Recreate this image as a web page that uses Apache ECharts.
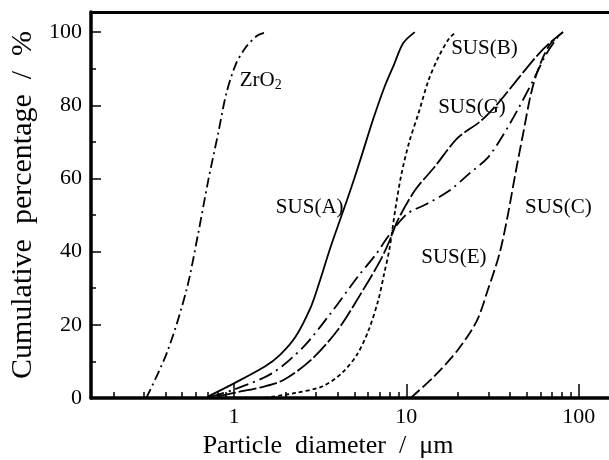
<!DOCTYPE html>
<html>
<head>
<meta charset="utf-8" />
<title>Cumulative particle size distribution</title>
<style>
  html, body { margin: 0; padding: 0; background: #fff; }
  #chart { width: 609px; height: 460px; }
</style>
</head>
<body>
<div id="chart"></div>
<script src="https://cdn.jsdelivr.net/npm/echarts@6/dist/echarts.min.js"></script>
<script>
// ---- data: [diameter um, cumulative %] ----
const zro2 = [[0.31, 0], [0.41, 12.6], [0.53, 29.5], [0.62, 45], [0.71, 59.6], [0.81, 72.4],
  [0.9, 83], [1.02, 91], [1.16, 95.6], [1.36, 99], [1.55, 100]];
const susA = [[0.7, 0.3], [1.0, 4], [1.51, 8.6], [1.85, 11.8], [2.28, 16.8], [2.8, 25], [3.1, 31],
  [3.62, 41], [4.22, 50], [4.8, 57.6], [5.46, 65.7], [6.37, 75.7], [7.44, 84.8], [8.46, 91],
  [9.6, 97], [11.2, 100]];
const susB = [[1.5, 0], [2.28, 1.4], [3.27, 3.2], [4.22, 6.8], [5.2, 12], [6.05, 18.6], [6.87, 26.7],
  [7.44, 34], [8.0, 41], [8.66, 52], [9.35, 61], [10.4, 70], [11.8, 78], [13.4, 86.6],
  [15.3, 93], [17.8, 98.4], [19.5, 100]];
const susE = [[0.73, 0.3], [1.0, 2.3], [1.67, 6.8], [2.53, 14], [3.62, 23], [5.2, 33], [6.7, 39.4],
  [7.8, 44], [10.1, 50.3], [13.1, 53], [17.8, 56.7], [23, 61.2], [29.7, 65.7], [36.6, 72],
  [44.9, 79.3], [55.4, 87.5], [64.5, 93.8], [75, 98.4], [81, 100]];
const susG = [[0.81, 0.5], [1.0, 1.4], [1.51, 3.2], [1.95, 5], [2.8, 10.4], [4.0, 18.6], [5.46, 28.6],
  [7.07, 37.6], [8.0, 43], [8.9, 48.5], [11.2, 56.7], [14.5, 63], [19.8, 71], [27, 75.7],
  [34.7, 81], [44.9, 87.5], [58, 93.8], [67.8, 97], [81, 100]];
const susC = [[10.6, 0], [14.5, 5.9], [19.8, 13], [25.6, 21], [29.7, 29.5], [34.7, 39.4], [38.6, 49.4],
  [42.9, 61.2], [47.5, 72], [52.8, 83], [58.4, 90], [67.8, 96.5], [81, 100]];

// curve labels: [x, y, text]
const curveLabels = [
  [1.08, 86.9, '{a|ZrO}{s|2}'],
  [1.75, 52.2, 'SUS(A)'],
  [18.2, 95.6, 'SUS(B)'],
  [15.3, 79.5, 'SUS(G)'],
  [12.2, 38.3, 'SUS(E)'],
  [48.9, 52.2, 'SUS(C)']
];

// ticks
const xMajor = [1, 10, 100];
const xMinor = [0.2, 0.3, 0.4, 0.5, 0.6, 0.7, 0.8, 0.9, 2, 3, 4, 5, 6, 7, 8, 9,
  20, 30, 40, 50, 60, 70, 80, 90];
const yMajor = [0, 20, 40, 60, 80, 100];
const yMinor = [10, 30, 50, 70, 90];

const font = '"Liberation Serif", "DejaVu Serif", serif';
const xMin = 0.148, xMax = 150, yMin = 0, yMax = 105.5;

const chart = echarts.init(document.getElementById('chart'));

function curve(name, data, dash) {
  return {
    name: name,
    type: 'line',
    data: data,
    smooth: 0.3,
    symbol: 'none',
    lineStyle: { color: '#000', width: 1.8, type: dash }
  };
}

const option = {
  animation: false,
  backgroundColor: '#fff',
  textStyle: { fontFamily: font },
  grid: { left: 91, right: 0, top: 12, bottom: 62, outerBoundsMode: 'none', containLabel: false },
  xAxis: [{
    type: 'log',
    position: 'bottom',
    min: xMin, max: xMax,
    name: 'Particle  diameter  /  μm',
    nameLocation: 'middle',
    nameGap: 34,
    nameTextStyle: { fontFamily: font, fontSize: 26, color: '#000', padding: [0, 44, 0, 0] },
    axisLine: { lineStyle: { color: '#000', width: 3.5 } },
    axisTick: { inside: true, length: 14, customValues: xMajor, lineStyle: { color: '#000', width: 1.5 } },
    axisLabel: { fontFamily: font, fontSize: 22, color: '#000', margin: 8, customValues: xMajor },
    splitLine: { show: false }
  }, {
    type: 'log',
    position: 'bottom',
    min: xMin, max: xMax,
    axisLine: { show: false },
    axisTick: { inside: true, length: 6, customValues: xMinor, lineStyle: { color: '#000', width: 1.5 } },
    axisLabel: { show: false },
    splitLine: { show: false }
  }, {
    type: 'log',
    position: 'top',
    min: xMin, max: xMax,
    axisLine: { lineStyle: { color: '#000', width: 3 } },
    axisTick: { show: false },
    axisLabel: { show: false },
    splitLine: { show: false }
  }],
  yAxis: [{
    type: 'value',
    position: 'left',
    min: yMin, max: yMax,
    name: 'Cumulative  percentage  /  %',
    nameLocation: 'middle',
    nameGap: 51,
    nameTextStyle: { fontFamily: font, fontSize: 30, color: '#000' },
    axisLine: { lineStyle: { color: '#000', width: 3.5 } },
    axisTick: { inside: true, length: 10, customValues: yMajor, lineStyle: { color: '#000', width: 1.5 } },
    axisLabel: { fontFamily: font, fontSize: 22, color: '#000', margin: 9, customValues: yMajor },
    splitLine: { show: false }
  }, {
    type: 'value',
    position: 'left',
    min: yMin, max: yMax,
    axisLine: { show: false },
    axisTick: { inside: true, length: 5, customValues: yMinor, lineStyle: { color: '#000', width: 1.5 } },
    axisLabel: { show: false },
    splitLine: { show: false }
  }],
  series: [
    curve('ZrO2', zro2, [10, 4, 2, 4]),
    curve('SUS(A)', susA, 'solid'),
    curve('SUS(B)', susB, [4, 3]),
    curve('SUS(E)', susE, [14, 5, 2, 5]),
    curve('SUS(G)', susG, [18, 3]),
    curve('SUS(C)', susC, [12, 4]),
    {
      type: 'scatter',
      symbolSize: 0,
      silent: true,
      data: curveLabels.map(function (d) { return { value: [d[0], d[1]], text: d[2] }; }),
      label: {
        show: true,
        position: 'right',
        distance: 0,
        fontFamily: font,
        fontSize: 21,
        color: '#000',
        opacity: 1,
        formatter: function (p) { return p.data.text; },
        rich: {
          a: { fontFamily: font, fontSize: 21, color: '#000' },
          s: { fontFamily: font, fontSize: 14, color: '#000', padding: [10, 0, 0, 0] }
        }
      }
    }
  ]
};

chart.setOption(option);
window.onresize = function () { chart.resize(); };
</script>
</body>
</html>
